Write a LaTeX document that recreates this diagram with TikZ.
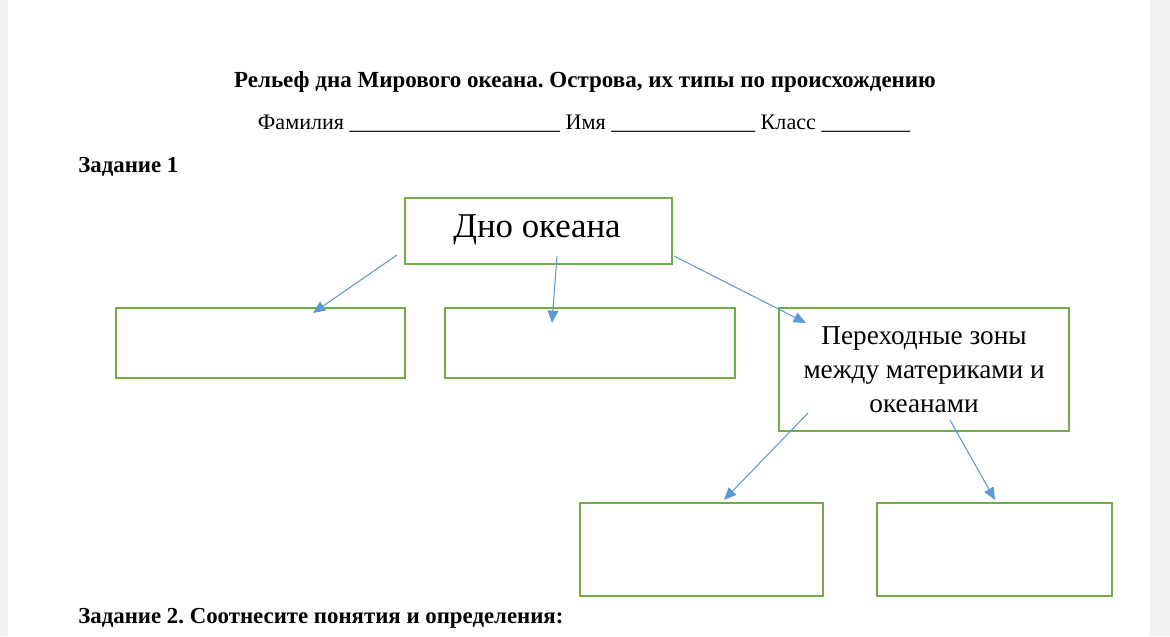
\documentclass[tikz,border=0pt]{standalone}
\usepackage{fontspec}
\setmainfont{Liberation Serif}
\usetikzlibrary{positioning, arrows.meta}
\definecolor{boxgreen}{HTML}{70AD47}
\definecolor{arrowblue}{HTML}{5B9BD5}
\tikzset{
box/.style={draw=boxgreen, line width=1.2pt, anchor=north west, inner sep=0pt, align=center},
link/.style={draw=arrowblue, line width=0.6pt, -{Triangle[width=6pt,length=7pt]}},
}
\frenchspacing

\begin{document}
\begin{tikzpicture}[x=0.02cm, y=-0.02cm]
                \useasboundingbox[fill=black!6] (0,0) rectangle (1170,636);
                \fill[white] (8,0) rectangle (1150,636);
                % headings
                \node[font=\bfseries\fontsize{13.1}{15}\selectfont] (title) at (585,82) {Рельеф дна Мирового океана. Острова, их типы по происхождению};
                \node[font=\fontsize{12.6}{15}\selectfont] (name) at (584,124) {Фамилия \_\_\_\_\_\_\_\_\_\_\_\_\_\_\_\_\_\_\_ Имя \_\_\_\_\_\_\_\_\_\_\_\_\_ Класс \_\_\_\_\_\_\_\_};
                \node[font=\bfseries\fontsize{13}{15}\selectfont, anchor=west, inner sep=0pt] (task1) at (78,167) {Задание 1};
                \node[font=\bfseries\fontsize{13}{15}\selectfont, anchor=west, inner sep=0pt] (task2) at (78,618) {Задание 2. Соотнесите понятия и определения:};
                % boxes
                \node[box, minimum width=267*0.02cm, minimum height=66*0.02cm] (root) at (404,197) {};
                \node[font=\fontsize{19.8}{23}\selectfont] at (537,230) {Дно океана};
                \node[box, minimum width=289*0.02cm, minimum height=70*0.02cm] (b1) at (115,307) {};
                \node[box, minimum width=290*0.02cm, minimum height=70*0.02cm] (b2) at (444,307) {};
                \node[box, minimum width=290*0.02cm, minimum height=123*0.02cm, font=\fontsize{15.5}{19.4}\selectfont] (zones) at (778,307) {Переходные зоны\\между материками и\\океанами};
                \node[box, minimum width=243*0.02cm, minimum height=93*0.02cm] (b4) at (579,502) {};
                \node[box, minimum width=235*0.02cm, minimum height=93*0.02cm] (b5) at (876,502) {};
                % arrows
                \coordinate (s1) at (397,255); \coordinate (e1) at (313,313);
                \coordinate (s2) at (557,256); \coordinate (e2) at (552,323);
                \coordinate (s3) at (674,256); \coordinate (e3) at (806,323);
                \coordinate (s4) at (808,413); \coordinate (e4) at (724,500);
                \coordinate (s5) at (950,420); \coordinate (e5) at (995,500);
                \foreach \i in {1,...,5}
                    \draw[link] (s\i) -- (e\i);
\end{tikzpicture}
\end{document}
